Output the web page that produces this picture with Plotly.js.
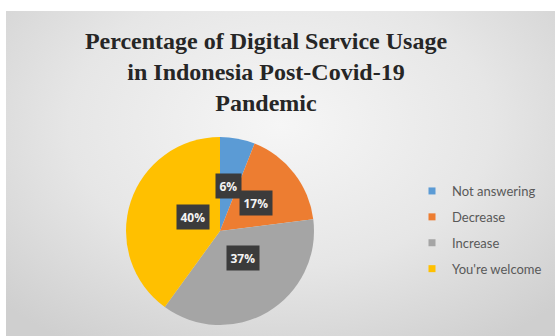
<!DOCTYPE html>
<html>
<head>
<meta charset="utf-8">
<script src="https://cdn.plot.ly/plotly-3.0.1.min.js"></script>
<style>
  html, body { margin:0; padding:0; background:#ffffff; }
  #bg { position:absolute; left:6px; top:11px; width:549px; height:325px;
        background: radial-gradient(ellipse 70% 80% at 50% 35%, #f6f6f6 0%, #e6e6e6 55%, #cfcfcf 100%); }
  #chart { position:absolute; left:0; top:0; width:555px; height:336px; }
</style>
</head>
<body>
<div id="bg"></div>
<div id="chart"></div>
<script>
// ---- data ----
const labels = ['Not answering', 'Decrease', 'Increase', "You're welcome"];
const values = [6, 17, 37, 40];
const colors = ['#5B9BD5', '#ED7D31', '#A5A5A5', '#FFC000'];
const titleText = 'Percentage of Digital Service Usage<br>in Indonesia Post-Covid-19<br>Pandemic';

// ---- layout constants ----
const W = 555, H = 336;
const cxPx = 220, cyPx = 231, R = 94;      // pie centre & radius in pixels
const labelFrac = 0.49;                    // label distance from centre (fraction of radius)

const dom = {
  x: [(cxPx - R) / W, (cxPx + R) / W],
  y: [(H - cyPx - R) / H, (H - cyPx + R) / H]
};

const total = values.reduce((a, b) => a + b, 0);
let cum = 0;
const annotations = values.map((v, i) => {
  const mid = (cum + v / 2) / total * 2 * Math.PI; cum += v;
  const px = cxPx + labelFrac * R * Math.sin(mid);
  const py = cyPx - labelFrac * R * Math.cos(mid);
  return {
    xref: 'paper', yref: 'paper', x: px / W, y: 1 - py / H,
    text: '<b>' + Math.round(v / total * 100) + '%</b>',
    showarrow: false, bgcolor: '#3b3b3b', borderpad: 3.5,
    font: { family: 'Open Sans, sans-serif', size: 12, color: '#f4f4f4' }
  };
});

const traces = [{
  type: 'pie', labels: labels, values: values, sort: false,
  direction: 'clockwise', rotation: 0, textinfo: 'none',
  marker: { colors: colors, line: { width: 0 } },
  domain: dom, showlegend: false, hoverinfo: 'label+percent'
}];
labels.forEach((l, i) => {
  traces.push({
    type: 'scatter', mode: 'markers', x: [null], y: [null], name: l,
    legendgroup: 'g' + i, marker: { symbol: 'square', size: 7, color: colors[i] },
    hoverinfo: 'skip'
  });
});

const layout = {
  width: W, height: H,
  margin: { l: 0, r: 0, t: 0, b: 0 },
  paper_bgcolor: 'rgba(0,0,0,0)', plot_bgcolor: 'rgba(0,0,0,0)',
  title: {
    text: titleText, x: 266 / W, xanchor: 'center', y: 1 - 49 / H, yanchor: 'top',
    font: { family: 'Liberation Serif, serif', size: 24, color: '#262626', weight: 'bold' }
  },
  xaxis: { visible: false }, yaxis: { visible: false },
  showlegend: true,
  legend: {
    x: 412 / W, xanchor: 'left', y: 1 - 176 / H, yanchor: 'top',
    traceorder: 'grouped', tracegroupgap: 6, bgcolor: 'rgba(0,0,0,0)',
    font: { family: 'Lato, sans-serif', size: 13, color: '#595959' }
  },
  annotations: annotations
};

Plotly.newPlot('chart', traces, layout, { displayModeBar: false, staticPlot: true });
</script>
</body>
</html>
